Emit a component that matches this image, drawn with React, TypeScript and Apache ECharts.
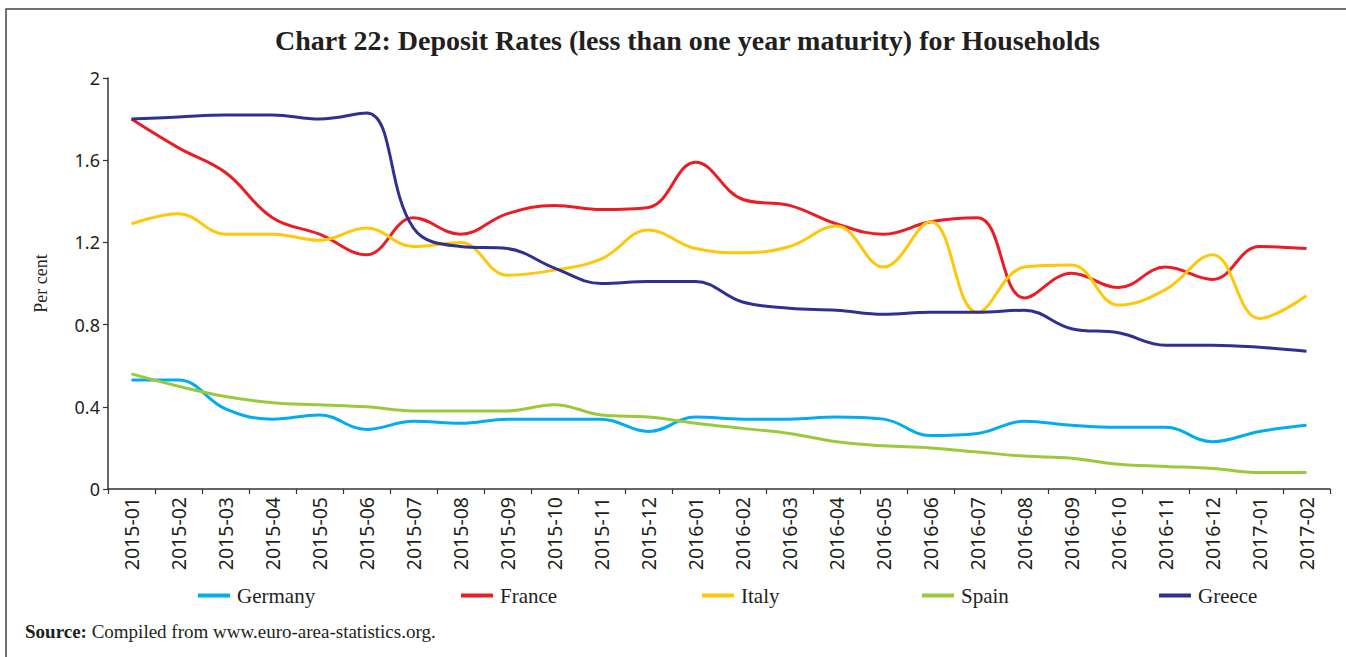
import React, { useEffect, useRef } from "react";
import * as echarts from "echarts";

const categories = [
  "2015-01", "2015-02", "2015-03", "2015-04", "2015-05", "2015-06", "2015-07", "2015-08", "2015-09",
  "2015-10", "2015-11", "2015-12", "2016-01", "2016-02", "2016-03", "2016-04", "2016-05", "2016-06",
  "2016-07", "2016-08", "2016-09", "2016-10", "2016-11", "2016-12", "2017-01", "2017-02",
];

const germany = [0.53, 0.53, 0.39, 0.34, 0.36, 0.29, 0.33, 0.32, 0.34, 0.34, 0.34, 0.28, 0.35, 0.34, 0.34, 0.35, 0.34, 0.26, 0.27, 0.33, 0.31, 0.30, 0.30, 0.23, 0.28, 0.31];
const france = [1.80, 1.66, 1.54, 1.32, 1.24, 1.14, 1.32, 1.24, 1.34, 1.38, 1.36, 1.37, 1.59, 1.41, 1.38, 1.29, 1.24, 1.30, 1.32, 0.93, 1.05, 0.98, 1.08, 1.02, 1.18, 1.17];
const italy = [1.29, 1.34, 1.24, 1.24, 1.21, 1.27, 1.18, 1.20, 1.04, 1.065, 1.12, 1.26, 1.17, 1.15, 1.18, 1.28, 1.08, 1.30, 0.86, 1.08, 1.09, 0.895, 0.97, 1.14, 0.83, 0.94];
const spain = [0.56, 0.50, 0.45, 0.42, 0.41, 0.40, 0.38, 0.38, 0.38, 0.41, 0.36, 0.35, 0.32, 0.295, 0.27, 0.23, 0.21, 0.20, 0.18, 0.16, 0.15, 0.12, 0.11, 0.10, 0.08, 0.08];
const greece = [1.80, 1.81, 1.82, 1.82, 1.80, 1.83, 1.27, 1.18, 1.17, 1.075, 1.00, 1.01, 1.01, 0.91, 0.88, 0.87, 0.85, 0.86, 0.86, 0.87, 0.78, 0.76, 0.70, 0.70, 0.69, 0.67];

const seriesNames = ["Germany", "France", "Italy", "Spain", "Greece"];
const seriesData = [germany, france, italy, spain, greece];
const colors = ["#00AEEF", "#ED1C24", "#FFC709", "#9ACA3C", "#2E3192"];
const legendLefts = [193, 456, 697, 917, 1154];

export default function App() {
  const ref = useRef<HTMLDivElement>(null);
  useEffect(() => {
    if (!ref.current) return;
    const chart = echarts.init(ref.current, null, { renderer: "svg" });
    const serif = "Liberation Serif";
    const sans = "Noto Sans";
    chart.setOption({
      animation: false,
      backgroundColor: "#fff",
      title: {
        text: "Chart 22: Deposit Rates (less than one year maturity) for Households",
        left: 270,
        top: 21,
        textStyle: { fontFamily: serif, fontWeight: "bold", fontSize: 28, color: "#231F20" },
      },
      legend: seriesNames.map((n, i) => ({
        data: [n],
        left: legendLefts[i],
        top: 580,
        icon: "rect",
        itemWidth: 32,
        itemHeight: 4,
        itemGap: 0,
        textStyle: { fontFamily: serif, fontSize: 21, color: "#231F20", padding: [0, 0, 0, 2] },
      })),
      grid: { left: 108, right: 16, top: 78, bottom: 168, containLabel: false },
      xAxis: {
        type: "category",
        data: categories,
        boundaryGap: true,
        axisLine: { lineStyle: { color: "#333", width: 1.5 } },
        axisTick: { show: true, length: 5, lineStyle: { color: "#333", width: 1.2 } },
        axisLabel: { rotate: 90, interval: 0, margin: 8, fontFamily: sans, fontSize: 19.5, color: "#231F20" },
      },
      yAxis: {
        type: "value",
        min: 0,
        max: 2,
        interval: 0.4,
        name: "Per cent",
        nameLocation: "middle",
        nameGap: 58,
        nameRotate: 90,
        nameTextStyle: { fontFamily: serif, fontSize: 18, color: "#231F20" },
        splitLine: { show: false },
        axisLine: { show: true, lineStyle: { color: "#333", width: 1.5 } },
        axisTick: { show: true, length: 5, lineStyle: { color: "#333", width: 1.2 } },
        axisLabel: { margin: 8, fontFamily: sans, fontSize: 18, color: "#231F20" },
      },
      graphic: [
        {
          type: "rect",
          shape: { x: 6, y: 9, width: 1500, height: 800 },
          style: { fill: "none", stroke: "#444", lineWidth: 1.5 },
          silent: true,
        },
        {
          type: "text",
          left: 25,
          top: 622,
          style: {
            text: "{b|Source:} Compiled from www.euro-area-statistics.org.",
            rich: {
              b: { fontFamily: serif, fontWeight: "bold", fontSize: 19, fill: "#231F20" },
            },
            fontFamily: serif,
            fontSize: 19,
            fill: "#231F20",
          },
        },
      ],
      series: seriesNames.map((n, i) => ({
        name: n,
        type: "line",
        data: seriesData[i],
        smooth: 0.4,
        symbol: "none",
        lineStyle: { color: colors[i], width: 3 },
        itemStyle: { color: colors[i] },
      })),
    });
    return () => chart.dispose();
  }, []);
  return (
    <div
      ref={ref}
      style={{ position: "fixed", left: 0, top: 0, width: 1346, height: 657 }}
    />
  );
}
